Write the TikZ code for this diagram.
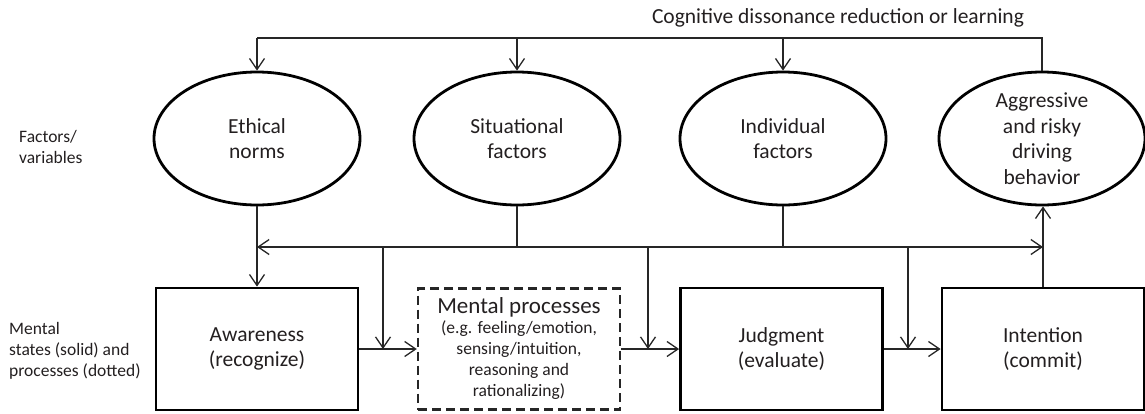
\documentclass[tikz,border=0pt]{standalone}
\usepackage{fontspec}
\setmainfont{Carlito}
\usetikzlibrary{shapes.geometric,arrows.meta,calc}
\definecolor{txt}{RGB}{35,31,32}
\begin{document}
\begin{tikzpicture}[x=1pt,y=-1pt,
  big/.style={font=\fontsize{21.5}{25.5}\selectfont},
  small/.style={font=\fontsize{17.5}{21}\selectfont},
  factor/.style={ellipse,draw=black,line width=2.8pt,minimum width=206pt,minimum height=133pt,inner sep=0pt,align=center,text=txt,big},
  state/.style={rectangle,draw=black,line width=2.8pt,minimum width=202pt,minimum height=122pt,inner sep=0pt,align=center,text=txt,big},
  procbox/.style={rectangle,draw=black!85,line width=2.4pt,dash pattern=on 9pt off 5pt,minimum width=202pt,minimum height=121pt,inner sep=0pt,align=center,text=txt,small},
  conn/.style={line width=1.3pt,draw=black!85},
  arr/.style={conn,-{Straight Barb[length=11pt,width=15pt,line width=1.3pt]}},
  lbl/.style={text=txt,align=left,small,anchor=west,inner sep=0pt}
]
\useasboundingbox (0,0) rectangle (1145,413);
% labels
\node[big,text=txt,inner sep=0pt] (title) at (838,18) {Cognitive dissonance reduction or learning};
\node[lbl] (lf) at (19,147) {Factors/\\variables};
\node[lbl] (lm) at (9,351) {Mental\\states (solid) and\\processes (dotted)};
% ellipses
\node[factor] (e1) at (257,138.5) {Ethical\\norms};
\node[factor] (e2) at (517,138.5) {Situational\\factors};
\node[factor] (e3) at (783,138.5) {Individual\\factors};
\node[factor] (e4) at (1042,138.5) {Aggressive\\and risky\\driving\\behavior};
% boxes
\node[state] (b1) at (257,349) {Awareness\\(recognize)};
\node[procbox] (b2) at (519,349) {{\fontsize{23}{26}\selectfont Mental processes}\\[-1pt](e.g. feeling/emotion,\\sensing/intuition,\\reasoning and\\rationalizing)};
\node[state] (b3) at (781.5,349) {Judgment\\(evaluate)};
\node[state] (b4) at (1043,349) {Intention\\(commit)};
% coordinates
\coordinate (top) at (257,38);
\coordinate (bus) at (257,247);
\coordinate (d1) at (383,247);
\coordinate (d2) at (648,247);
\coordinate (d3) at (908,247);
% feedback loop
\draw[conn] (e4.north) |- (top);
\draw[arr] (top) -- (e1.north);
\draw[arr] (e2.north |- top) -- (e2.north);
\draw[arr] (e3.north |- top) -- (e3.north);
% verticals
\draw[arr] (e1.south) -- (b1.north);
\draw[arr] (b4.north) -- (b4.north |- e4.south);
% bus
\draw[arr] (e2.south) |- (bus);
\draw[arr] (e3.south) |- (b4.north |- bus);
\draw[conn] (e2.south |- bus) -- (e3.south |- bus);
\draw[arr] (d1) -- (d1 |- b1.east);
\draw[arr] (d2) -- (d2 |- b1.east);
\draw[arr] (d3) -- (d3 |- b1.east);
% chain
\draw[arr] (b1.east) -- (b2.west);
\draw[arr] (b2.east) -- (b3.west);
\draw[arr] (b3.east) -- (b4.west);
\end{tikzpicture}
\end{document}
